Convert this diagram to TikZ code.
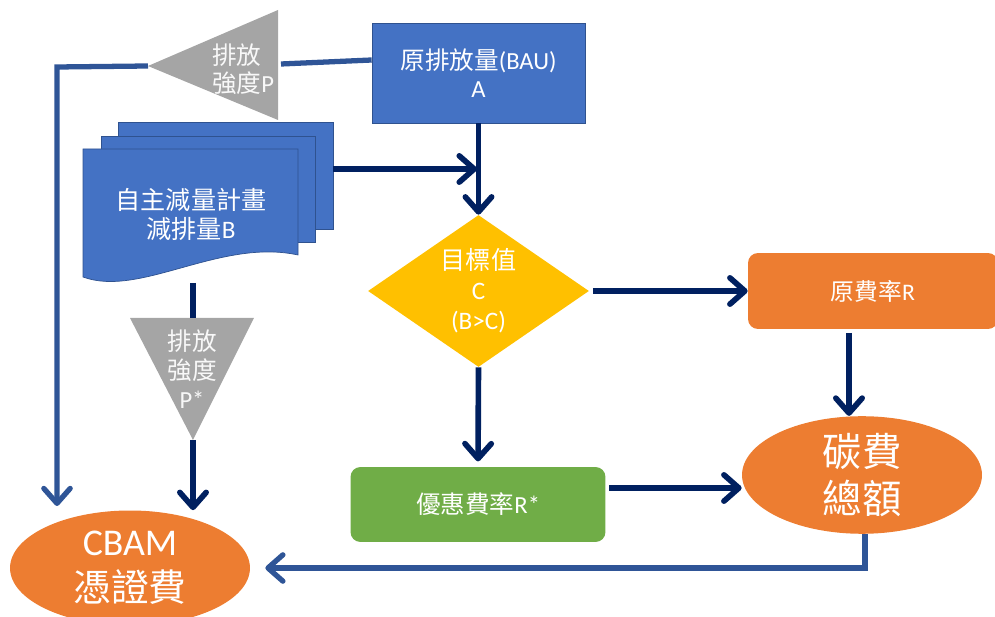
\documentclass[tikz,border=0pt]{standalone}
\usepackage{fontspec}
\setmainfont{Carlito}
\newfontfamily\cjk{Noto Sans CJK TC}
\usetikzlibrary{shapes.geometric,arrows.meta,calc}

\definecolor{boxblue}{HTML}{4472C4}
\definecolor{edgeblue}{HTML}{2F528F}
\definecolor{linkblue}{HTML}{2F5597}
\definecolor{navy}{HTML}{002060}
\definecolor{gold}{HTML}{FFC000}
\definecolor{tangerine}{HTML}{ED7D31}
\definecolor{leaf}{HTML}{70AD47}
\definecolor{ash}{HTML}{A5A5A5}

\begin{document}
\begin{tikzpicture}[x=0.02cm,y=-0.02cm,
  >={Straight Barb[length=8.5pt,width=15pt,round]},
  txt/.style={text=white,align=center,font=\fontsize{14}{16}\selectfont},
  flow/.style={line width=3.2pt,draw=navy,->},
  link/.style={line width=3pt,draw=linkblue}]
\useasboundingbox (0,0) rectangle (995,617);

% Baseline emissions
\node[draw=edgeblue,fill=boxblue,minimum width=4.26cm,minimum height=2cm,txt] (bau) at (478.5,73) {{\cjk 原排放量}(BAU)\\A};

% Intensity P
\fill[ash] (148,66) coordinate (ptip) -- (278,10) -- (278,120) -- cycle;
\coordinate (pbase) at (281,64);
\node[txt,align=left,anchor=west,text=white!92!ash] (plab) at (206,69) {{\cjk 排放}\\{\cjk 強度}P};

% Voluntary reduction plan
\node[draw=edgeblue,fill=boxblue,minimum width=4.3cm,minimum height=2.14cm] (bk) at (225.5,175.5) {};
\node[draw=edgeblue,fill=boxblue,minimum width=4.28cm,minimum height=2.12cm] (md) at (208,189) {};
\draw[edgeblue,fill=boxblue] (83,149) -- (298,149) -- (298,255) .. controls (220,238) and (140,298) .. (83,277) -- cycle;
\node[txt,font=\fontsize{14.3}{16.5}\selectfont] (plan) at (191,214) {{\cjk 自主減量計畫}\\{\cjk 減排量}B};
\coordinate (docb) at (193,283);

% Intensity P*
\fill[ash] (130,318) -- (254,318) -- (193,440) coordinate (qtip) -- cycle;
\coordinate (qtop) at (193,318);
\node[txt,font=\fontsize{14}{16.5}\selectfont,text=white!92!ash] (qlab) at (192,369) {{\cjk 排放}\\{\cjk 強度}\\P*};

% Target value
\node[diamond,fill=gold,aspect=1.45,minimum width=4.42cm,minimum height=3.04cm,inner sep=0pt,txt,font=\fontsize{14.3}{17}\selectfont] (goal) at (478.5,291) {{\cjk 目標值}\\C\\(B>C)};

% Rates
\node[fill=tangerine,rounded corners=0.2cm,minimum width=5cm,minimum height=1.52cm,txt,font=\fontsize{13.5}{15}\selectfont] (rate) at (873,291) {{\cjk 原費率}R};
\node[fill=leaf,rounded corners=0.2cm,minimum width=5.1cm,minimum height=1.5cm,txt,font=\fontsize{14}{16}\selectfont] (cut) at (478,504.5) {{\cjk 優惠費率}R*};

% Totals
\node[ellipse,fill=tangerine,minimum width=4.8cm,minimum height=2.28cm,inner sep=0pt,txt,font=\fontsize{22.5}{26.5}\selectfont] (tax) at (862,475) {{\cjk 碳費}\\{\cjk 總額}};
\node[ellipse,fill=tangerine,minimum width=4.8cm,minimum height=2.3cm,inner sep=0pt,txt,font=\fontsize{21.5}{26}\selectfont] (cbam) at (130,568) {CBAM\\{\cjk 憑證費}};
\coordinate (cin) at (57,506);

% Connectors
\draw[link] ([yshift=0.26cm]bau.west) -- (pbase);
\draw[link,->] (ptip) -- (57,67) -- (cin);
\draw[flow,-] (docb) -- (qtop);
\draw[flow] (qtip) -- (qtip |- cbam.north);
\draw[flow] ([yshift=0.13cm]bk.east) -- ([yshift=0.13cm,xshift=-0.03cm]bk.east -| bau.south);
\draw[flow] (bau.south) -- (goal.north);
\draw[flow,shorten <=2pt] (goal.east) -- (rate.west);
\draw[flow,shorten >=3pt] (goal.south) -- (cut.north);
\draw[flow,shorten <=2pt] ([xshift=-0.48cm]rate.south) -- ([xshift=-0.48cm]rate.south |- tax.north);
\draw[flow,shorten <=2pt] ([yshift=0.33cm]cut.east) -- ([yshift=0.33cm]cut.east -| tax.west);
\draw[link,->] ([xshift=0.06cm]tax.south) |- ([xshift=0.3cm]cbam.east);
\end{tikzpicture}
\end{document}
